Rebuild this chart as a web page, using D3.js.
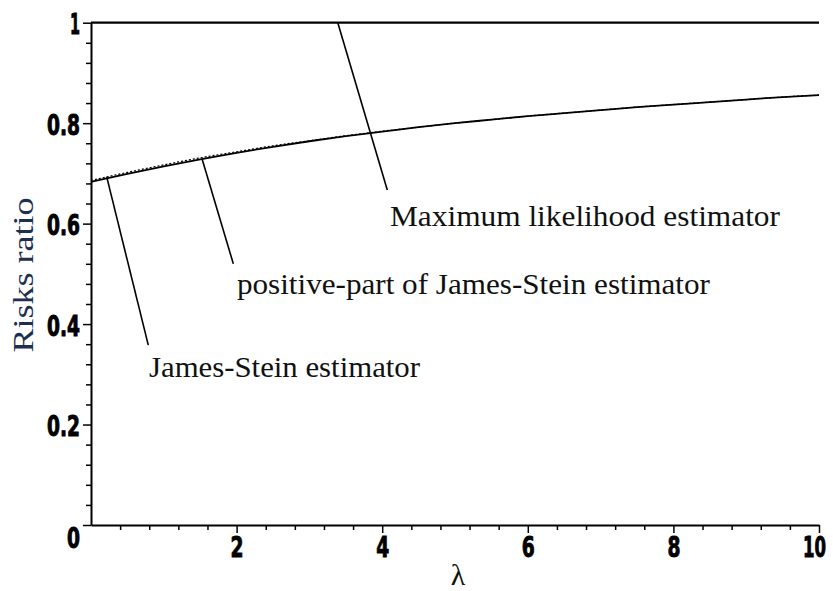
<!DOCTYPE html>
<html>
<head>
<meta charset="utf-8">
<script src="https://cdn.jsdelivr.net/npm/d3@7/dist/d3.min.js"></script>
<style>
  html, body { margin: 0; padding: 0; background: #fff; }
  svg { display: block; }
</style>
</head>
<body>
<svg id="chart" width="833" height="591"></svg>
<script>
// ---- data ----
const lambda = [0, 0.5, 1, 1.5, 2, 2.5, 3, 3.5, 4, 4.5, 5, 5.5, 6, 6.5, 7, 7.5, 8, 8.5, 9, 9.5, 10];
const positivePartRisk = [0.683, 0.699, 0.714, 0.728, 0.741, 0.753, 0.764, 0.774, 0.783, 0.792, 0.800, 0.807, 0.814, 0.820, 0.826, 0.832, 0.837, 0.842, 0.847, 0.852, 0.856];
const jamesSteinRisk   = [0.686, 0.702, 0.717, 0.731, 0.743, 0.755, 0.765, 0.775, 0.784, 0.792, 0.800, 0.807, 0.814, 0.820, 0.826, 0.832, 0.837, 0.842, 0.847, 0.852, 0.856];
const mleLambda = [0, 10];
const mleRisk = [1, 1];
const xTicks = [2, 4, 6, 8, 10];
const yTicks = [0, 0.2, 0.4, 0.6, 0.8, 1];
const labelTexts = ["Maximum likelihood estimator", "positive-part of James-Stein estimator", "James-Stein estimator"];
// leader lines: [lambda1, ratio1, lambda2, ratio2]
const leaderLines = [[3.39, 1.0, 4.07, 0.667], [1.525, 0.729, 1.955, 0.520], [0.216, 0.693, 0.787, 0.358]];
const labelAnchors = [[4.107, 0.595], [2.005, 0.460], [0.797, 0.295]];
const labelWidths = [390, 473, 271];

// ---- layout ----
const svg = d3.select("#chart");
const x = d3.scaleLinear().domain([0, 10]).range([91, 819]);
const y = d3.scaleLinear().domain([0, 1]).range([525, 22.7]);

const tickFont = "'Liberation Sans Narrow','DejaVu Sans Condensed','Liberation Sans',sans-serif";
function labelLen(s) {
  let w = 0;
  for (const c of s) w += (c === "." ? 7 : (c === "1" ? 10 : 13));
  return w;
}

// minor ticks
const xMinor = d3.range(0, 10.001, 0.4).filter(v => Math.abs(v / 2 - Math.round(v / 2)) > 1e-6);
const yMinor = d3.range(0, 1.0001, 0.04).filter(v => Math.abs(v / 0.2 - Math.round(v / 0.2)) > 1e-6);

const gxMinor = svg.append("g").attr("transform", "translate(0,525)")
  .call(d3.axisBottom(x).tickValues(xMinor).tickSize(5).tickFormat(""));
gxMinor.select(".domain").remove();
gxMinor.selectAll("line").attr("stroke", "#000").attr("stroke-width", 1.5);

const gyMinor = svg.append("g").attr("transform", "translate(91,0)")
  .call(d3.axisLeft(y).tickValues(yMinor).tickSize(5).tickFormat(""));
gyMinor.select(".domain").remove();
gyMinor.selectAll("line").attr("stroke", "#000").attr("stroke-width", 1.5);

// major axes
const gx = svg.append("g").attr("transform", "translate(0,525)")
  .call(d3.axisBottom(x).tickValues(xTicks).tickSize(8).tickSizeOuter(0).tickPadding(4).tickFormat(d3.format("d")));
gx.select(".domain").attr("stroke", "#000").attr("stroke-width", 2);
gx.selectAll("line").attr("stroke", "#000").attr("stroke-width", 1.5);
gx.selectAll("text")
  .attr("font-family", tickFont).attr("font-weight", "bold").attr("font-size", 28)
  .attr("fill", "#000").attr("stroke", "#000").attr("stroke-width", 0.9)
  .attr("dy", "0.72em")
  .attr("dx", d => d === 10 ? -5 : 0)
  .attr("textLength", function () { return labelLen(this.textContent); })
  .attr("lengthAdjust", "spacingAndGlyphs");

const gy = svg.append("g").attr("transform", "translate(91,0)")
  .call(d3.axisLeft(y).tickValues(yTicks).tickSize(8).tickSizeOuter(0).tickPadding(3)
    .tickFormat(d => d === 0 ? "0" : (d === 1 ? "1" : d3.format(".1f")(d))));
gy.select(".domain").attr("stroke", "#000").attr("stroke-width", 2);
gy.selectAll("line").attr("stroke", "#000").attr("stroke-width", 1.5);
gy.selectAll("text")
  .attr("font-family", tickFont).attr("font-weight", "bold").attr("font-size", 28)
  .attr("fill", "#000").attr("stroke", "#000").attr("stroke-width", 0.9)
  .attr("dy", d => d === 0 ? "0.8em" : "0.4em")
  .attr("textLength", function () { return labelLen(this.textContent); })
  .attr("lengthAdjust", "spacingAndGlyphs");

// ---- series ----
const curve = d3.line().curve(d3.curveMonotoneX).x(d => x(d[0])).y(d => y(d[1]));

svg.append("path")
  .datum(mleLambda.map((l, i) => [l, mleRisk[i]]))
  .attr("d", curve).attr("fill", "none").attr("stroke", "#000").attr("stroke-width", 2.2);

svg.append("path")
  .datum(lambda.map((l, i) => [l, jamesSteinRisk[i]]))
  .attr("d", curve)
  .attr("fill", "none").attr("stroke", "#000").attr("stroke-width", 1.2)
  .attr("stroke-dasharray", "2,2");

svg.append("path")
  .datum(lambda.map((l, i) => [l, positivePartRisk[i]]))
  .attr("d", curve)
  .attr("fill", "none").attr("stroke", "#000").attr("stroke-width", 1.8);

// ---- annotations ----
svg.append("g").selectAll("line").data(leaderLines).join("line")
  .attr("x1", d => x(d[0])).attr("y1", d => y(d[1]))
  .attr("x2", d => x(d[2])).attr("y2", d => y(d[3]))
  .attr("stroke", "#000").attr("stroke-width", 1.6);

svg.append("g").selectAll("text").data(labelTexts).join("text")
  .attr("x", (d, i) => x(labelAnchors[i][0]))
  .attr("y", (d, i) => y(labelAnchors[i][1]))
  .attr("font-family", "'Liberation Serif','Times New Roman',serif")
  .attr("font-size", 30).attr("fill", "#111")
  .attr("textLength", (d, i) => labelWidths[i])
  .attr("lengthAdjust", "spacingAndGlyphs")
  .text(d => d);

// axis titles
svg.append("text")
  .attr("transform", "translate(33,275) rotate(-90)")
  .attr("text-anchor", "middle")
  .attr("font-family", "'Liberation Serif','Times New Roman',serif")
  .attr("font-size", 30).attr("fill", "#1d2f4f")
  .attr("textLength", 155).attr("lengthAdjust", "spacingAndGlyphs")
  .text("Risks ratio");

svg.append("text")
  .attr("x", 458).attr("y", 585)
  .attr("text-anchor", "middle")
  .attr("font-family", "'Liberation Serif','Times New Roman',serif")
  .attr("font-size", 30).attr("fill", "#111")
  .text("λ");
</script>
</body>
</html>
